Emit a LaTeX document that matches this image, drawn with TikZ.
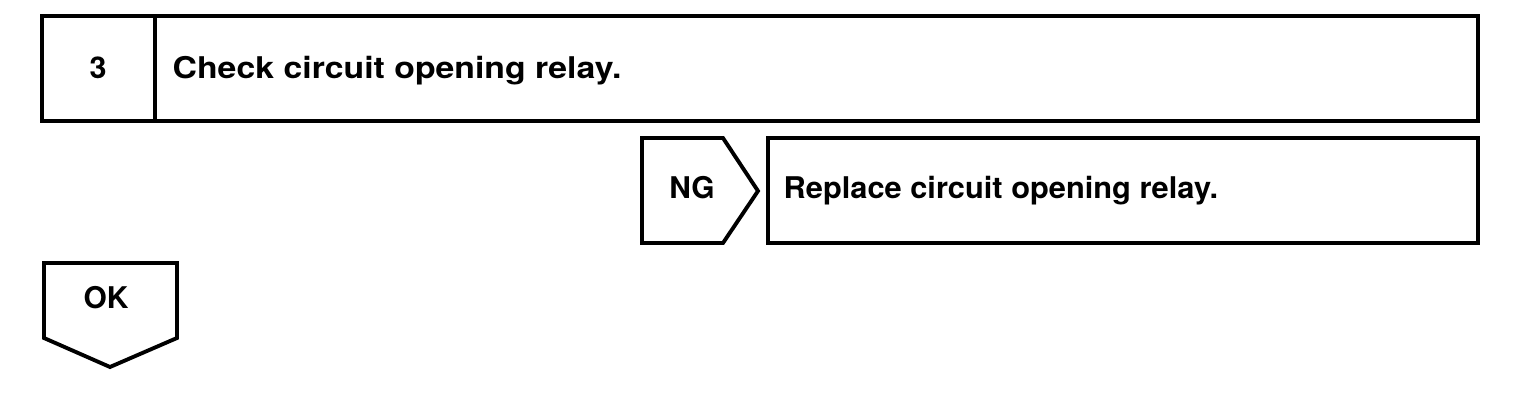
\documentclass[tikz,border=0pt]{standalone}
\usepackage{fontspec}
\usepackage{graphicx}
\setmainfont{TeX Gyre Heros}
\usetikzlibrary{positioning}

\newcommand{\wide}[2]{\scalebox{#1}[1]{#2}}

\begin{document}
\begin{tikzpicture}[
    x=0.01cm, y=-0.01cm,
    frame/.style={draw, line width=1.1pt, line join=miter},
    steptext/.style={font=\bfseries\fontsize{8.5}{10}\selectfont, inner sep=0pt, anchor=base},
    boxtext/.style={steptext, anchor=base west}
]
\useasboundingbox (0,0) rectangle (1520,400);

% Step header
\draw[frame] (42,16) rectangle (1478,121);
\draw[frame] (155,16) -- (155,121);
\node[steptext] (stepno) at (98,78) {\wide{1.02}{3}};
\node[boxtext] (steptitle) at (172,78) {\wide{1.13}{Check circuit opening relay.}};

% NG branch
\draw[frame] (642,138) -- (723,138) -- (758,191) -- (723,243) -- (642,243) -- cycle;
\node[steptext] (ng) at (692,198) {NG};
\draw[frame] (768,138) rectangle (1478,243);
\node[boxtext] (ngaction) at (783,198) {\wide{1.03}{Replace circuit opening relay.}};

% OK branch
\draw[frame] (44,263) -- (177,263) -- (177,338) -- (110,367) -- (44,338) -- cycle;
\node[steptext] (ok) at (106,308) {OK};

\end{tikzpicture}
\end{document}
